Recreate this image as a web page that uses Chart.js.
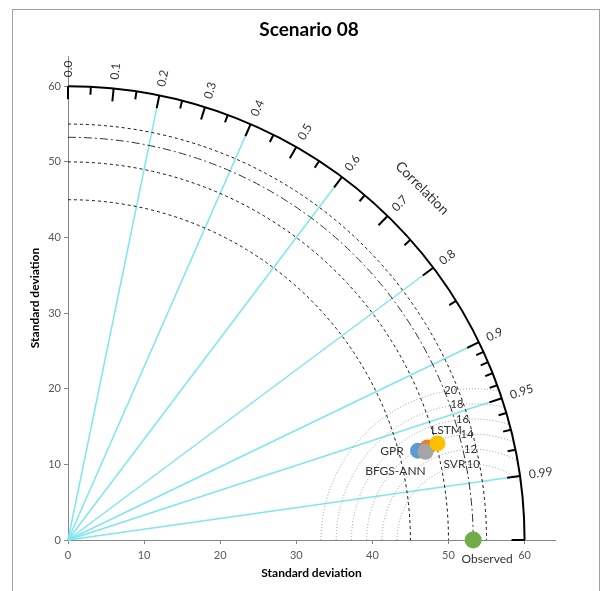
<!DOCTYPE html>
<html>
<head>
<meta charset="utf-8">
<title>Scenario 08</title>
<script src="https://cdn.jsdelivr.net/npm/chart.js@4.4.1/dist/chart.umd.min.js"></script>
<style>
  html, body { margin: 0; padding: 0; background: #fff; }
  canvas { display: block; }
</style>
</head>
<body>
<canvas id="taylor" width="603" height="591"></canvas>
<script>
// Taylor diagram - scenario 08
const models = ["GPR", "BFGS-ANN", "SVR", "LSTM"];
const modelStd = [47.5, 48.8, 48.4, 50.2];
const modelCorr = [0.9686, 0.968, 0.9705, 0.9671];
const observedStd = 53.25;

const stdTicks = [0, 10, 20, 30, 40, 50, 60];
const corrLabels = [0, 0.1, 0.2, 0.3, 0.4, 0.5, 0.6, 0.7, 0.8, 0.9, 0.95, 0.99];
const corrMinor = [0.05, 0.15, 0.25, 0.35, 0.45, 0.55, 0.65, 0.75, 0.85,
                   0.91, 0.92, 0.93, 0.94, 0.96, 0.97, 0.98];
const corrRays = [0.2, 0.4, 0.6, 0.8, 0.9, 0.95, 0.99];
const stdArcs = [45, 50, 55];
const rmsArcs = [10, 12, 14, 16, 18, 20];
const outerStd = 60;

const modelColors = ["#5b9bd5", "#ed7d31", "#a5a5a5", "#ffc000"];
const observedColor = "#70ad47";
// where each point's name sits, in pixels from the point
const labelOffsets = {
  "GPR": [-26, 0], "BFGS-ANN": [-32, 24], "SVR": [29, 12], "LSTM": [9, -13], "Observed": [14, 19]
};
const FONT = "Lato";

const datasets = models.map((m, i) => ({
  label: m,
  data: [{ x: modelStd[i] * modelCorr[i], y: modelStd[i] * Math.sqrt(1 - modelCorr[i] * modelCorr[i]) }],
  backgroundColor: modelColors[i],
  borderWidth: 0,
  pointRadius: 8,
  pointHoverRadius: 8,
  order: models.length - i + 1,
  clip: false
}));
datasets.push({
  label: "Observed",
  data: [{ x: observedStd, y: 0 }],
  backgroundColor: observedColor,
  borderWidth: 0,
  pointRadius: 8.5,
  pointHoverRadius: 8.5,
  order: 0,
  clip: false
});

const fmtCorr = c => (Math.round(c * 100) % 10 ? c.toFixed(2) : c.toFixed(1));

const taylorGrid = {
  id: "taylorGrid",
  beforeDraw(chart) {
    const { ctx, width, height } = chart;
    ctx.save();
    ctx.fillStyle = "#fff";
    ctx.fillRect(0, 0, width, height);
    ctx.strokeStyle = "#a0a0a0";
    ctx.lineWidth = 1;
    ctx.strokeRect(12.5, 9.5, 587, height);
    ctx.restore();
  },
  beforeDatasetsDraw(chart) {
    const { ctx, chartArea, scales: { x, y } } = chart;
    const ox = x.getPixelForValue(0), oy = y.getPixelForValue(0);
    const rx = r => x.getPixelForValue(r) - ox;
    const ry = r => oy - y.getPixelForValue(r);
    const polar = (s, c) => [x.getPixelForValue(s * c), y.getPixelForValue(s * Math.sqrt(1 - c * c))];

    ctx.save();
    // correlation rays
    ctx.strokeStyle = "#7fe6ee";
    ctx.lineWidth = 1.5;
    corrRays.forEach(c => {
      const [px, py] = polar(outerStd, c);
      ctx.beginPath();
      ctx.moveTo(ox, oy);
      ctx.lineTo(px, py);
      ctx.stroke();
    });

    // centred RMS difference arcs around the observed point
    ctx.save();
    ctx.beginPath();
    ctx.rect(chartArea.left, chartArea.top, chartArea.width, oy - chartArea.top);
    ctx.clip();
    ctx.beginPath();
    ctx.ellipse(ox, oy, rx(outerStd), ry(outerStd), 0, 0, Math.PI * 2);
    ctx.clip();
    const cx = x.getPixelForValue(observedStd);
    ctx.strokeStyle = "#9a9a9a";
    ctx.lineWidth = 1;
    ctx.setLineDash([1, 2]);
    rmsArcs.forEach(r => {
      ctx.beginPath();
      ctx.ellipse(cx, oy, rx(r), ry(r), 0, Math.PI, Math.PI * 2);
      ctx.stroke();
    });
    ctx.restore();

    // standard deviation arcs
    ctx.strokeStyle = "#111";
    ctx.lineWidth = 1;
    ctx.setLineDash([3, 3]);
    stdArcs.forEach(s => {
      ctx.beginPath();
      ctx.ellipse(ox, oy, rx(s), ry(s), 0, -Math.PI / 2, 0);
      ctx.stroke();
    });
    ctx.setLineDash([8, 3, 2, 3]);
    ctx.strokeStyle = "#333";
    ctx.beginPath();
    ctx.ellipse(ox, oy, rx(observedStd), ry(observedStd), 0, -Math.PI / 2, 0);
    ctx.stroke();

    // outer correlation axis
    ctx.setLineDash([]);
    ctx.strokeStyle = "#000";
    ctx.lineWidth = 2;
    ctx.beginPath();
    ctx.ellipse(ox, oy, rx(outerStd), ry(outerStd), 0, -Math.PI / 2, 0);
    ctx.stroke();

    const tick = (c, len) => {
      const th = Math.acos(c);
      const [px, py] = polar(outerStd, c);
      ctx.beginPath();
      ctx.moveTo(px, py);
      ctx.lineTo(px - len * Math.cos(th), py + len * Math.sin(th));
      ctx.stroke();
    };
    corrLabels.concat([1]).forEach(c => tick(c, 13));
    corrMinor.forEach(c => tick(c, 8));
    ctx.restore();
  },
  afterDatasetsDraw(chart) {
    const { ctx, scales: { x, y } } = chart;
    const polar = (s, c) => [x.getPixelForValue(s * c), y.getPixelForValue(s * Math.sqrt(1 - c * c))];
    ctx.save();

    // correlation labels
    ctx.fillStyle = "#333";
    ctx.font = "12px " + FONT;
    ctx.textAlign = "left";
    ctx.textBaseline = "middle";
    corrLabels.forEach(c => {
      const th = Math.acos(c);
      const [px, py] = polar(61.2, c);
      ctx.save();
      ctx.translate(px, py);
      ctx.rotate(-th);
      ctx.fillText(fmtCorr(c), 0, 0);
      ctx.restore();
    });

    ctx.font = "14px " + FONT;
    ctx.textAlign = "center";
    const [lx, ly] = polar(65.8, Math.SQRT1_2);
    ctx.save();
    ctx.translate(lx, ly);
    ctx.rotate(Math.PI / 4);
    ctx.fillText("Correlation", 0, 0);
    ctx.restore();

    // RMS arc values
    ctx.font = "11px " + FONT;
    rmsArcs.forEach(r => {
      const a = (90 + (r - 10) * 0.85) * Math.PI / 180;
      ctx.fillText(String(r), x.getPixelForValue(observedStd + r * Math.cos(a)), y.getPixelForValue(r * Math.sin(a)));
    });

    // point names
    ctx.font = "12px " + FONT;
    chart.data.datasets.forEach((ds, i) => {
      const pt = chart.getDatasetMeta(i).data[0];
      const off = labelOffsets[ds.label];
      ctx.fillText(ds.label, pt.x + off[0], pt.y + off[1]);
    });

    // chart title
    ctx.fillStyle = "#000";
    ctx.font = "bold 19px " + FONT;
    ctx.fillText("Scenario 08", 309, 30);
    ctx.restore();
  }
};

const axisStyle = (titleText, titlePad) => ({
  type: "linear",
  min: 0,
  max: 64,
  afterBuildTicks: s => { s.ticks = stdTicks.map(v => ({ value: v })); },
  ticks: { color: "#595959", font: { family: FONT, size: 11 }, maxRotation: 0 },
  grid: { drawOnChartArea: false, drawTicks: true, tickLength: 4, color: "#868686" },
  border: { color: "#868686" },
  title: {
    display: true,
    text: titleText,
    color: "#000",
    font: { family: FONT, size: 12, weight: "bold" },
    padding: titlePad
  }
});

const xAxis = axisStyle("Standard deviation", { top: 0, bottom: 11 });
xAxis.ticks.padding = 5;
xAxis.afterFit = s => { s.height = 51; };
const yAxis = axisStyle("Standard deviation", { top: 28, bottom: 0 });
yAxis.ticks.padding = 3;
yAxis.afterFit = s => { s.width = 68; };

new Chart("taylor", {
  type: "scatter",
  data: { datasets },
  options: {
    responsive: false,
    animation: false,
    events: [],
    layout: { padding: { top: 56, right: 48, bottom: 0, left: 0 } },
    scales: { x: xAxis, y: yAxis },
    plugins: {
      legend: { display: false },
      tooltip: { enabled: false }
    }
  },
  plugins: [taylorGrid]
});
</script>
</body>
</html>
